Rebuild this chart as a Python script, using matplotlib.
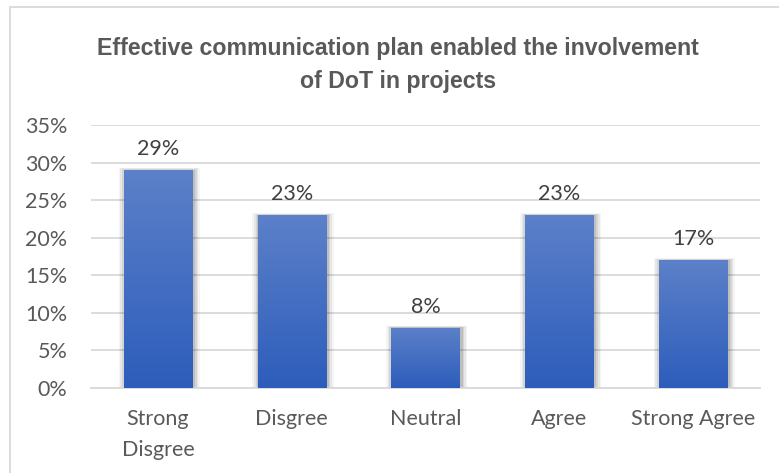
import numpy as np
import matplotlib.pyplot as plt
import matplotlib.colors as mcolors
from matplotlib.patches import Rectangle


# survey answers
categories = ['Strong\nDisgree', 'Disgree', 'Neutral', 'Agree', 'Strong Agree']
shares     = [29, 23, 8, 23, 17]          # percent
yticks     = [0, 5, 10, 15, 20, 25, 30, 35]

title = 'Effective communication plan enabled the involvement\nof DoT in projects'

bar_w   = 0.51
top_c   = '#5C80C9'
bot_c   = '#2D5DBB'
grey    = '#595959'
grad    = mcolors.LinearSegmentedColormap.from_list('barfade', [bot_c, top_c])


fig = plt.figure(figsize=(7.79, 4.73), dpi=100)
ax  = fig.add_axes([0.1168, 0.1797, 0.8588, 0.556])

x = np.arange(len(categories))
bars = ax.bar(x, shares, width=bar_w, color='none', zorder=3)

# soft shadow + vertical gradient fill for each bar
for b, v in zip(bars, shares):
    x0, w, h = b.get_x(), b.get_width(), b.get_height()
    for k, a in enumerate([0.10, 0.08, 0.06, 0.04]):
        pad = 0.012 * (k + 1)
        ax.add_patch(Rectangle((x0 - pad + 0.01, -0.15), w + 2 * pad, h + 0.15 + pad * 6,
                               facecolor='black', edgecolor='none', alpha=a, zorder=2))
    img = ax.imshow(np.linspace(0, 1, 100).reshape(-1, 1), cmap=grad, origin='lower',
                    extent=[x0, x0 + w, 0, h], aspect='auto', zorder=3)
    img.set_clip_path(b)
    ax.text(b.get_x() + w / 2, v + 1.5, f'{v}%', ha='center', va='bottom',
            fontsize=15.5, color='#404040', family='Lato')

ax.set_xlim(-0.5, len(categories) - 0.5)
ax.set_ylim(0, 35)
ax.set_yticks(yticks)
ax.set_yticklabels([f'{t}%' for t in yticks])
ax.set_xticks(x)
ax.set_xticklabels(categories, linespacing=1.72)
ax.yaxis.grid(True, color='#D9D9D9', linewidth=1.3, zorder=0)
ax.set_axisbelow(True)
for s in ax.spines.values():
    s.set_visible(False)
ax.spines['bottom'].set_visible(True)
ax.spines['bottom'].set_color('#D9D9D9')
ax.spines['bottom'].set_linewidth(1.3)
ax.tick_params(length=0, labelsize=15.5, colors=grey, pad=15)
ax.tick_params(axis='y', pad=17)
for lbl in ax.get_xticklabels() + ax.get_yticklabels():
    lbl.set_family('Lato')

fig.text(0.511, 0.863, title, ha='center', va='center', fontsize=16.7,
         fontweight='bold', color=grey, family='Liberation Sans', linespacing=1.55)

# chart frame
fig.add_artist(Rectangle((0.0128, -0.02), 1.1, 1.005, transform=fig.transFigure,
                         facecolor='none', edgecolor='#D9D9D9', linewidth=1.3))

fig.savefig('out.png', dpi=100)
